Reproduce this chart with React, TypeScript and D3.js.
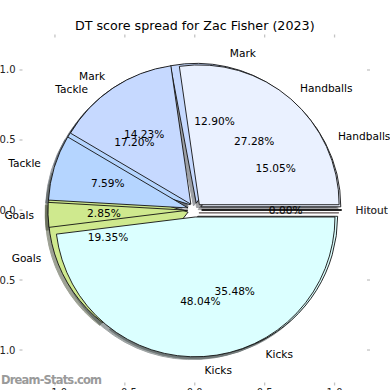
import * as d3 from "d3";

// two seasons drawn as overlapping pies (back one first)
const categories = ["Handballs", "Mark", "Tackle", "Goals", "Kicks", "Hitout"];
const sliceColors = ["#eaf1ff", "#c6d9ff", "#b5d5ff", "#cfe98e", "#dbffff", "#ffd6d6"];
const backPie = [15.05, 12.9, 17.2, 19.35, 35.48, 0.0];
const frontPie = [27.28, 14.23, 7.59, 2.85, 48.04, 0.0];
const tickValues = [-1.0, -0.5, 0.0, 0.5, 1.0];

const W = 390;
const H = 390;
const font = "DejaVu Sans, sans-serif";

const x = d3.scaleLinear().domain([-1.232, 1.232]).range([22.5, 367]);
const y = d3.scaleLinear().domain([-1.232, 1.232]).range([382.5, 37.5]);
const R = x(1) - x(0);
const explode = 0.05;

const pie = d3
  .pie<number>()
  .sort(null)
  .value((d) => d)
  .startAngle(Math.PI / 2)
  .endAngle(Math.PI / 2 - 2 * Math.PI);

const arc = d3.arc<any>().innerRadius(0).outerRadius(R);

function shade(c: string) {
  const rgb = d3.rgb(c);
  return d3.rgb(rgb.r * 0.3, rgb.g * 0.3, rgb.b * 0.3).toString();
}

function layout(values: number[]) {
  return pie(values).map((p, i) => {
    const m = (p.startAngle + p.endAngle) / 2;
    const dx = Math.sin(m);
    const dy = Math.cos(m);
    const cx = explode * dx;
    const cy = explode * dy;
    return {
      p,
      i,
      cx,
      cy,
      label: { x: cx + 1.1 * dx, y: cy + 1.1 * dy },
      pct: { x: cx + 0.6 * dx, y: cy + 0.6 * dy },
      value: values[i],
    };
  });
}

const pies = [layout(backPie), layout(frontPie)];

// labels of both pies that land on the same spot (the empty Hitout slice)
function stacked(s: any) {
  return pies.every((sl) => Math.abs(sl[s.i].label.y - s.label.y) < 1e-6 && sl[s.i].value === s.value);
}

export default function App() {
  const sx = x(-0.02) - x(0);
  const sy = y(-0.02) - y(0);
  return (
    <svg width={W} height={H} style={{ position: "absolute", left: 0, top: 0 }} fontFamily={font}>
      <rect width={W} height={H} fill="#fff" />
      <text x={x(0)} y={30} textAnchor="middle" fontSize={12.7} fill="#000">
        DT score spread for Zac Fisher (2023)
      </text>

      {/* ticks on all four sides, labels left and bottom */}
      {tickValues.map((t) => (
        <g key={"t" + t} stroke="#c4c4c4" strokeWidth={1.3}>
          <line x1={x.range()[0] - 3} x2={x.range()[0]} y1={y(t)} y2={y(t)} />
          <line x1={x.range()[1]} x2={x.range()[1] + 3} y1={y(t)} y2={y(t)} />
          <line x1={x(t)} x2={x(t)} y1={y.range()[1] - 3} y2={y.range()[1]} />
          <line x1={x(t)} x2={x(t)} y1={y.range()[0]} y2={y.range()[0] + 3} />
        </g>
      ))}
      {tickValues.map((t) => (
        <text key={"yl" + t} x={x.range()[0] - 7} y={y(t)} dy="0.35em" textAnchor="end" fontSize={10} fill="#222">
          {d3.format(".1f")(t).replace("-", "\u2212")}
        </text>
      ))}
      {tickValues.map((t) => (
        <text key={"xl" + t} x={x(t)} y={396} textAnchor="middle" fontSize={10} fill="#222">
          {d3.format(".1f")(t).replace("-", "\u2212")}
        </text>
      ))}

      {/* shadows first */}
      {pies.map((slices, k) =>
        slices.map((s) => (
          <path
            key={`s${k}-${s.i}`}
            d={arc(s.p) || ""}
            transform={`translate(${x(s.cx) + sx},${y(s.cy) + sy})`}
            fill={shade(sliceColors[s.i])}
            stroke={shade(sliceColors[s.i])}
            strokeWidth={1}
            opacity={0.5}
          />
        ))
      )}

      {pies.map((slices, k) =>
        slices.map((s) => (
          <path
            key={`w${k}-${s.i}`}
            d={arc(s.p) || ""}
            transform={`translate(${x(s.cx)},${y(s.cy)})`}
            fill={sliceColors[s.i]}
            stroke="#111"
            strokeWidth={0.9}
          />
        ))
      )}

      {pies.map((slices, k) =>
        slices.map((s) => (
          <g key={`l${k}-${s.i}`} fontSize={10.6} fill="#000" opacity={stacked(s) ? 0.6 : 1}>
            <text
              x={x(s.label.x)}
              y={y(s.label.y)}
              dy="0.35em"
              textAnchor={s.label.x > 0 ? "start" : "end"}
            >
              {categories[s.i]}
            </text>
            <text x={x(s.pct.x)} y={y(s.pct.y)} dy="0.35em" textAnchor="middle">
              {s.value.toFixed(2) + "%"}
            </text>
          </g>
        ))
      )}

      <text x={1} y={384} fontSize={11.5} fill="#9a9a9a" fontWeight="bold" textLength={101}>
        Dream-Stats.com
      </text>
    </svg>
  );
}
